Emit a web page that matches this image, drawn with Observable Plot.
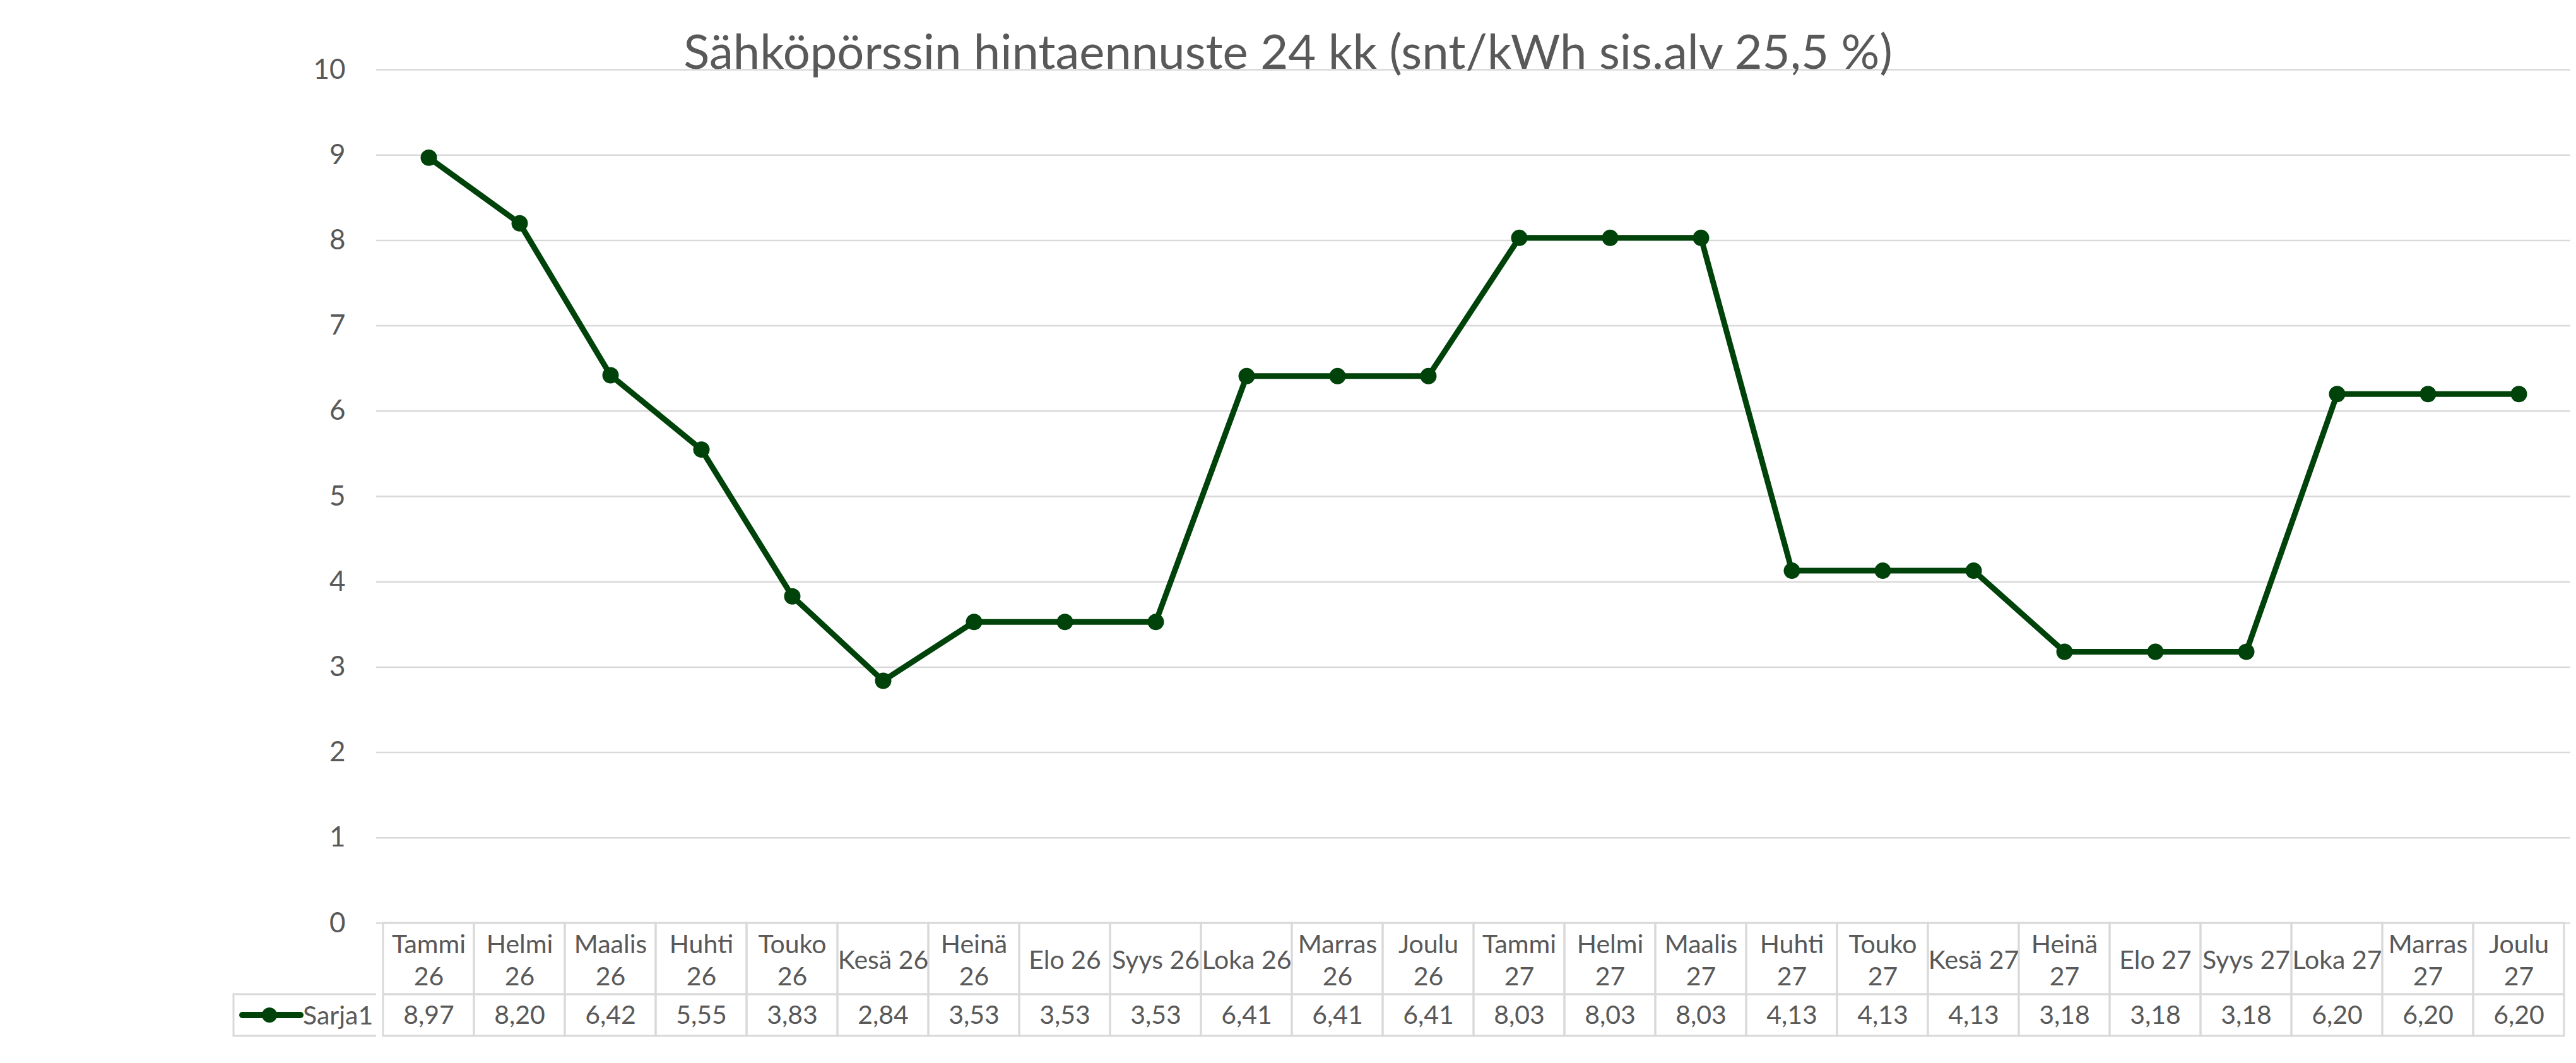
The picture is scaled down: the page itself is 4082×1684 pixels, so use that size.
<!DOCTYPE html>
<html>
<head>
<meta charset="utf-8">
<script src="https://cdn.jsdelivr.net/npm/d3@7"></script>
<script src="https://cdn.jsdelivr.net/npm/@observablehq/plot@0.6"></script>
<style>
  html, body { margin: 0; padding: 0; background: #fff; }
  #page { position: relative; width: 4082px; height: 1684px; overflow: hidden; font-family: Lato, "Open Sans", sans-serif; }
  .layer { position: absolute; left: 0; }
  #title { position: absolute; left: 0; width: 4082px; text-align: center; top: 42px; font-size: 76px; color: #595959; white-space: nowrap; line-height: 1; }
</style>
</head>
<body>
<div id="page">
  <div class="layer" id="main" style="top:0px"></div>
  <div class="layer" id="header" style="top:1462px"></div>
  <div class="layer" id="values" style="top:1575px"></div>
  <div id="title"></div>
</div>
<script>
const titleText = "Sähköpörssin hintaennuste 24 kk (snt/kWh sis.alv 25,5 %)";
const seriesName = "Sarja1";
const months = [
  "Tammi 26", "Helmi 26", "Maalis 26", "Huhti 26", "Touko 26", "Kesä 26",
  "Heinä 26", "Elo 26", "Syys 26", "Loka 26", "Marras 26", "Joulu 26",
  "Tammi 27", "Helmi 27", "Maalis 27", "Huhti 27", "Touko 27", "Kesä 27",
  "Heinä 27", "Elo 27", "Syys 27", "Loka 27", "Marras 27", "Joulu 27"
];
const headerLabels = [
  "Tammi\n26", "Helmi\n26", "Maalis\n26", "Huhti\n26", "Touko\n26", "Kesä 26",
  "Heinä\n26", "Elo 26", "Syys 26", "Loka 26", "Marras\n26", "Joulu\n26",
  "Tammi\n27", "Helmi\n27", "Maalis\n27", "Huhti\n27", "Touko\n27", "Kesä 27",
  "Heinä\n27", "Elo 27", "Syys 27", "Loka 27", "Marras\n27", "Joulu\n27"
];
const prices = [
  8.97, 8.20, 6.42, 5.55, 3.83, 2.84, 3.53, 3.53, 3.53, 6.41, 6.41, 6.41,
  8.03, 8.03, 8.03, 4.13, 4.13, 4.13, 3.18, 3.18, 3.18, 6.20, 6.20, 6.20
];
const yTicks = [0, 1, 2, 3, 4, 5, 6, 7, 8, 9, 10];

const data = months.map((m, i) => ({month: m, label: headerLabels[i], value: prices[i]}));
const fmt = v => v.toFixed(2).replace(".", ",");

const W = 4082, ML = 596, MR = 9;
const lineColor = "#00430A";
const gridColor = "#d9d9d9";
const textColor = "#595959";
const tableFont = 41;
const xScale = {type: "band", domain: months, padding: 0, align: 0.5};
const baseStyle = {fontFamily: "Lato, 'Open Sans', sans-serif", color: textColor, background: "transparent", overflow: "visible"};

// Main chart
const main = Plot.plot({
  width: W, height: 1464,
  marginLeft: ML, marginRight: MR, marginTop: 110, marginBottom: 2,
  style: {...baseStyle, fontSize: "44px"},
  x: {...xScale, axis: null},
  y: {domain: [0, 10], ticks: yTicks},
  marks: [
    Plot.gridY(yTicks, {stroke: gridColor, strokeOpacity: 1, strokeWidth: 2.5}),
    Plot.axisY(yTicks, {tickSize: 0, tickPadding: 49, fontSize: 44, fill: textColor, label: null, tickFormat: d => String(d)}),
    Plot.line(data, {x: "month", y: "value", stroke: lineColor, strokeWidth: 9, strokeLinejoin: "round"}),
    Plot.dot(data, {x: "month", y: "value", r: 13, fill: lineColor, stroke: "none"})
  ]
});
document.getElementById("main").appendChild(main);

// Header row of data table
const header = Plot.plot({
  width: W, height: 113,
  marginLeft: ML, marginRight: MR, marginTop: 0, marginBottom: 0,
  style: {...baseStyle, fontSize: tableFont + "px"},
  x: {...xScale, axis: null},
  marks: [
    Plot.cell(data, {x: "month", fill: "none", stroke: gridColor, strokeWidth: 3}),
    Plot.text(data, {x: "month", text: "label", fontSize: tableFont, fill: textColor, lineHeight: 1.25, frameAnchor: "middle"})
  ]
});
document.getElementById("header").appendChild(header);

// Values row of data table, with legend cell
function legendCell(index, scales, values, dimensions) {
  const {marginLeft, marginTop, marginBottom, height} = dimensions;
  const cellW = 226;
  const x0 = marginLeft - cellW;
  const h = height - marginTop - marginBottom;
  const cy = marginTop + h / 2;
  const g = d3.create("svg:g");
  g.append("path")
    .attr("d", `M${marginLeft},${marginTop}H${x0}V${marginTop + h}H${marginLeft}`)
    .attr("fill", "none").attr("stroke", gridColor).attr("stroke-width", 3);
  g.append("line")
    .attr("x1", x0 + 14).attr("x2", x0 + 106).attr("y1", cy).attr("y2", cy)
    .attr("stroke", lineColor).attr("stroke-width", 10).attr("stroke-linecap", "round");
  g.append("circle").attr("cx", x0 + 57).attr("cy", cy).attr("r", 12).attr("fill", lineColor);
  g.append("text").attr("x", x0 + 110).attr("y", cy).attr("dy", "0.36em")
    .attr("text-anchor", "start")
    .attr("fill", textColor).attr("font-size", tableFont).text(seriesName);
  return g.node();
}

const valuesRow = Plot.plot({
  width: W, height: 66,
  marginLeft: ML, marginRight: MR, marginTop: 0, marginBottom: 0,
  style: {...baseStyle, fontSize: tableFont + "px"},
  x: {...xScale, axis: null},
  marks: [
    Plot.cell(data, {x: "month", fill: "none", stroke: gridColor, strokeWidth: 3}),
    Plot.text(data, {x: "month", text: d => fmt(d.value), fontSize: tableFont, fill: textColor, frameAnchor: "middle"}),
    legendCell
  ]
});
document.getElementById("values").appendChild(valuesRow);

// Title
document.getElementById("title").textContent = titleText;
</script>
</body>
</html>
